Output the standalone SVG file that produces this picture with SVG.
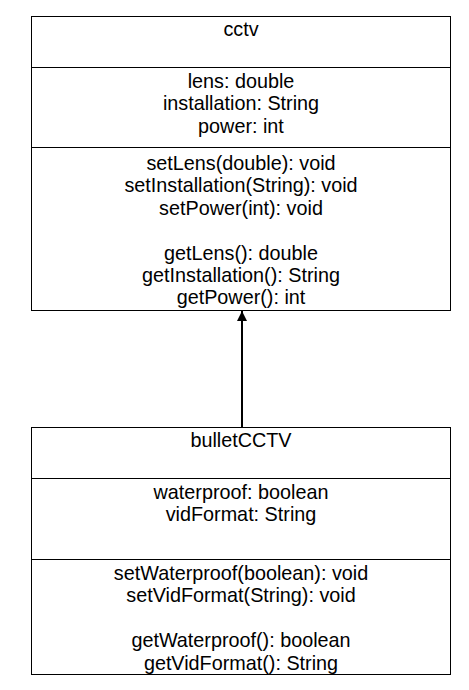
<svg xmlns="http://www.w3.org/2000/svg" width="469" height="690" viewBox="0 0 469 690">
<style>
.box{fill:#fff;stroke:#000;stroke-width:1}
.t{font-family:"Liberation Sans",Arial,sans-serif;font-size:19.8px;fill:#000;text-anchor:middle}
.c{stroke:#000;stroke-width:2;fill:none}
</style>
<defs>
<marker id="arr" viewBox="0 0 10 10" refX="10" refY="5" markerWidth="10" markerHeight="10" markerUnits="userSpaceOnUse" orient="auto">
<path d="M0,0 L10,5 L0,10 z" fill="#000"/>
</marker>
</defs>
<rect width="469" height="690" fill="#fff"/>
<g id="connectors">
<path class="c" d="M242,427 L242,311" marker-end="url(#arr)"/>
</g>
<g id="cctv">
<rect class="box" x="31.500" y="16.500" width="419" height="294"/>
<line class="box" x1="31.500" y1="67.500" x2="450.500" y2="67.500"/>
<line class="box" x1="31.500" y1="147.500" x2="450.500" y2="147.500"/>
<text class="t" x="241" y="36">cctv</text>
<text class="t" x="241" y="88">lens: double</text>
<text class="t" x="241" y="110.400">installation: String</text>
<text class="t" x="241" y="132.800">power: int</text>
<text class="t" x="241" y="170">setLens(double): void</text>
<text class="t" x="241" y="192.400">setInstallation(String): void</text>
<text class="t" x="241" y="214.800">setPower(int): void</text>
<text class="t" x="241" y="259.600">getLens(): double</text>
<text class="t" x="241" y="282">getInstallation(): String</text>
<text class="t" x="241" y="304.400">getPower(): int</text>
</g>
<g id="bulletCCTV">
<rect class="box" x="31.500" y="427.500" width="419" height="247"/>
<line class="box" x1="31.500" y1="478.500" x2="450.500" y2="478.500"/>
<line class="box" x1="31.500" y1="559.500" x2="450.500" y2="559.500"/>
<text class="t" x="241" y="447">bulletCCTV</text>
<text class="t" x="241" y="499">waterproof: boolean</text>
<text class="t" x="241" y="521.400">vidFormat: String</text>
<text class="t" x="241" y="580">setWaterproof(boolean): void</text>
<text class="t" x="241" y="602.400">setVidFormat(String): void</text>
<text class="t" x="241" y="647.200">getWaterproof(): boolean</text>
<text class="t" x="241" y="669.600">getVidFormat(): String</text>
</g>
</svg>
